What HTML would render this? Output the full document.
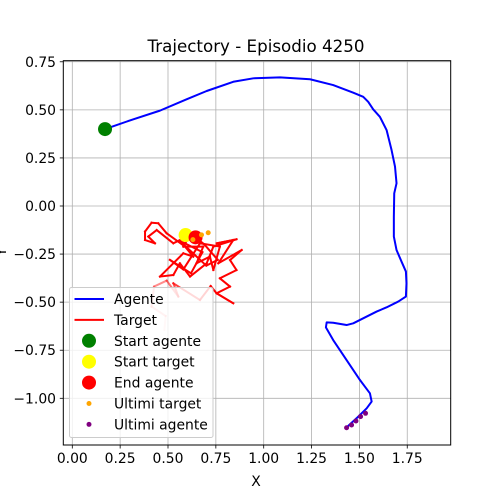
<!DOCTYPE html>
<html><head><meta charset="utf-8"><style>
body{margin:0;background:#fff;}
svg{display:block;font-family:"DejaVu Sans","Liberation Sans",sans-serif;}
</style></head><body>
<svg id="chart" width="500" height="500" viewBox="0 0 500 500">
<text x="256" y="52" font-size="16.7" text-anchor="middle">Trajectory - Episodio 4250</text>
<g id="grid"></g>
<g id="ticks"></g>
<g id="plot"></g>
<rect x="63.3" y="60.7" width="387.4" height="384.3" fill="none" stroke="#000" stroke-width="1"/>
<text x="256" y="486" font-size="13.9" text-anchor="middle">X</text>
<text x="6" y="252" font-size="13.9" text-anchor="middle" transform="rotate(-90 6 252)">Y</text>
<g id="legend"></g>
</svg>
<script>
const xTicks=[0,0.25,0.5,0.75,1,1.25,1.5,1.75];
const yTicks=[0.75,0.5,0.25,0,-0.25,-0.5,-0.75,-1];
const agentX=[0.171,0.319,0.458,0.597,0.702,0.841,0.946,1.085,1.242,1.363,1.468,1.520,1.546,1.572,1.607,1.642,1.668,1.686,1.694,1.682,1.680,1.680,1.694,1.720,1.743,1.746,1.743,1.703,1.642,1.590,1.538,1.468,1.433,1.363,1.329,1.325,1.363,1.433,1.503,1.555,1.564,1.538,1.485,1.433];
const agentY=[0.400,0.451,0.496,0.555,0.598,0.646,0.664,0.669,0.659,0.629,0.589,0.568,0.542,0.503,0.464,0.395,0.291,0.205,0.118,0.066,-0.055,-0.159,-0.229,-0.289,-0.341,-0.402,-0.471,-0.497,-0.527,-0.549,-0.575,-0.610,-0.619,-0.607,-0.605,-0.631,-0.697,-0.801,-0.905,-0.974,-1.017,-1.052,-1.104,-1.151];
const targetX=[0.481,0.488,0.414,0.427,0.493,0.554,0.528,0.667,0.723,0.754,0.841,0.754,0.824,0.771,0.858,0.824,0.885,0.763,0.841,0.754,0.858,0.737,0.702,0.615,0.562,0.528,0.458,0.580,0.632,0.589,0.493,0.449,0.414,0.380,0.380,0.432,0.397,0.441,0.528,0.615,0.580,0.684,0.649,0.719,0.737,0.771,0.667,0.580,0.510,0.620,0.680,0.560,0.700,0.760,0.690,0.644];
const targetY=[-0.645,-0.572,-0.523,-0.419,-0.388,-0.471,-0.402,-0.489,-0.416,-0.454,-0.506,-0.454,-0.419,-0.376,-0.333,-0.281,-0.229,-0.298,-0.177,-0.194,-0.173,-0.211,-0.298,-0.367,-0.298,-0.359,-0.367,-0.246,-0.263,-0.211,-0.142,-0.090,-0.087,-0.133,-0.177,-0.194,-0.159,-0.125,-0.194,-0.151,-0.211,-0.211,-0.298,-0.263,-0.333,-0.211,-0.194,-0.330,-0.280,-0.350,-0.240,-0.180,-0.310,-0.280,-0.200,-0.163];
const lastTargetX=[0.710,0.675,0.630];
const lastTargetY=[-0.139,-0.150,-0.175];
const lastAgentX=[1.433,1.459,1.482,1.506,1.532];
const lastAgentY=[-1.153,-1.139,-1.118,-1.095,-1.078];
const startAgent=[0.171,0.400];
const startTarget=[0.592,-0.151];
const endAgent=[0.644,-0.163];

const NS='http://www.w3.org/2000/svg';
const sx=v=>72.3+v*191.4;
const sy=v=>206-v*192.3;
function mk(tag,attrs,parent){const e=document.createElementNS(NS,tag);for(const k in attrs)e.setAttribute(k,attrs[k]);parent.appendChild(e);return e;}
const grid=document.getElementById('grid'),ticks=document.getElementById('ticks'),plot=document.getElementById('plot'),legend=document.getElementById('legend');
xTicks.forEach(t=>{
  const l=mk('line',{x1:sx(t),x2:sx(t),y1:60.7,y2:445,stroke:'#b0b0b0','stroke-width':0.8},grid);
  
  
  mk('line',{x1:sx(t),x2:sx(t),y1:445,y2:448.5,stroke:'#000','stroke-width':0.8},ticks);
  const tx=mk('text',{x:sx(t),y:463,'font-size':13.9,'text-anchor':'middle'},ticks);
  tx.textContent=t.toFixed(2);
  
  
});
yTicks.forEach(t=>{
  const l=mk('line',{x1:63.3,x2:450.7,y1:sy(t),y2:sy(t),stroke:'#b0b0b0','stroke-width':0.8},grid);
  
  
  mk('line',{x1:59.8,x2:63.3,y1:sy(t),y2:sy(t),stroke:'#000','stroke-width':0.8},ticks);
  const tx=mk('text',{x:56,y:sy(t)+5,'font-size':13.9,'text-anchor':'end'},ticks);
  tx.textContent=(t<0?'\u2212':'')+Math.abs(t).toFixed(2);
  
  
});
const fade=8;
for(let i=0;i<targetX.length-1;i++){
  const a=i<fade?0.15+0.1*i:1;
  const s=mk('line',{x1:sx(targetX[i]),y1:sy(targetY[i]),x2:sx(targetX[i+1]),y2:sy(targetY[i+1]),stroke:'red','stroke-opacity':a,'stroke-width':2,'stroke-linecap':'square'},plot);
  
  
}
const ap=mk('polyline',{points:agentX.map((x,i)=>sx(x)+','+sy(agentY[i])).join(' '),fill:'none',stroke:'blue','stroke-width':2,'stroke-linejoin':'round'},plot);


function dot(p,r,c,name){const d=mk('circle',{cx:sx(p[0]),cy:sy(p[1]),r:r,fill:c},plot);}
dot(startAgent,7,'green','start-agent-marker');
dot(startTarget,7,'yellow','start-target-marker');
dot(endAgent,7,'red','end-agent-marker');
lastTargetX.forEach((x,i)=>dot([x,lastTargetY[i]],2.5,'orange','last-target-point'));
lastAgentX.forEach((x,i)=>dot([x,lastAgentY[i]],2.5,'purple','last-agent-point'));
const lb=mk('rect',{x:69.5,y:287.5,width:143.5,height:150,rx:2,fill:'#fff','fill-opacity':0.8,stroke:'#ccc','stroke-width':1},legend);


const entries=[['Agente','line','blue'],['Target','line','red'],['Start agente','big','green'],['Start target','big','yellow'],['End agente','big','red'],['Ultimi target','small','orange'],['Ultimi agente','small','purple']];
entries.forEach((e,i)=>{
  const y=299+i*20.9;
  const g=mk('g',{},legend);
  
  
  if(e[1]==='line')mk('line',{x1:74.5,x2:104,y1:y,y2:y,stroke:e[2],'stroke-width':2},g);
  else mk('circle',{cx:89,cy:y,r:e[1]==='big'?7:2.5,fill:e[2]},g);
  const t=mk('text',{x:114,y:y+5,'font-size':13.9},g);
  t.textContent=e[0];
});
</script>
</body></html>
